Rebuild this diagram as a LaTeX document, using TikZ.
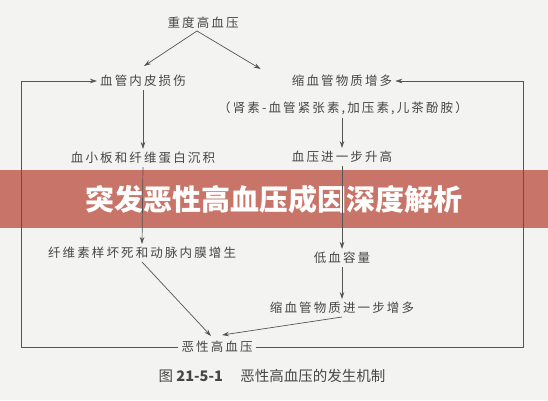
\documentclass[tikz,border=0pt]{standalone}
\usepackage{fontspec}
\setmainfont{Noto Sans CJK SC}
\newfontfamily\cjk[LetterSpace=17]{Noto Sans CJK SC}
\newfontfamily\cjkb{Noto Sans CJK SC}
\usetikzlibrary{arrows.meta,calc}
\definecolor{bg}{RGB}{243,243,241}
\definecolor{ink}{RGB}{70,70,70}
\definecolor{lineclr}{RGB}{85,85,85}
\definecolor{band}{RGB}{201,116,104}
\tikzset{
  lbl/.style={text=ink,font=\cjk\fontsize{12.5}{14}\selectfont,inner sep=3pt},
  conn/.style={draw=lineclr,line width=0.7pt},
  arr/.style={conn,-{Stealth[length=7pt,width=4.5pt]}},
}
\begin{document}
\begin{tikzpicture}[x=1pt,y=-1pt]
\fill[bg] (0,0) rectangle (548,400);
\useasboundingbox (0,0) rectangle (548,400);
% banner
\fill[band] (0,170) rectangle (548,228);
\node[text=white,font=\cjkb\bfseries\fontsize{29}{32}\selectfont] (banner) at (274,199) {突发恶性高血压成因深度解析};
% nodes
\node[lbl] (top) at (203,23) {重度高血压};
\node[lbl] (endo) at (143,81) {血管内皮损伤};
\node[lbl] (vaso) at (342,81) {缩血管物质增多};
\node[lbl] (paren) at (343,108) {（肾素-血管紧张素,加压素,儿茶酚胺）};
\node[lbl] (plate) at (143,158) {血小板和纤维蛋白沉积};
\node[lbl] (bp) at (342,157) {血压进一步升高};
\node[lbl] (fib) at (142,253) {纤维素样坏死和动脉内膜增生};
\node[lbl] (hypo) at (342,258) {低血容量};
\node[lbl] (vaso2) at (342,308) {缩血管物质进一步增多};
\node[lbl] (mal) at (217,347) {恶性高血压};
\node[text=ink,font=\cjkb\fontsize{14.5}{16}\selectfont] (cap) at (272,376) {图 \textbf{21-5-1}\hspace{1.2em}恶性高血压的发生机制};
\coordinate (L) at (21,0);
\coordinate (R) at (523,0);
% connectors
\draw[arr] ($(top.south)+(-6,-1)$) -- ($(endo.north)+(1,-6)$);
\draw[arr] ($(top.south)+(-6,-1)$) -- ($(vaso.north west)+(-28,-3)$);
\draw[arr] (endo.south -| plate.north) -- (plate.north);
\draw[arr] (plate.south) -- (fib.north);
\draw[arr] (bp.north |- paren.south) -- (bp.north);
\draw[arr] (bp.south) -- (hypo.north);
\draw[arr] (hypo.south) -- (vaso2.north);
\draw[arr] (fib.south) -- ($(mal.north)+(-6,-2)$);
\draw[arr] (vaso2.south) -- ($(mal.north)+(5,-3)$);
\draw[arr] (mal.west) -- (mal.west -| L) -- (endo.west -| L) -- (endo.west);
\draw[arr] (mal.east) -- (mal.east -| R) -- (vaso.east -| R) -- (vaso.east);
\end{tikzpicture}
\end{document}
